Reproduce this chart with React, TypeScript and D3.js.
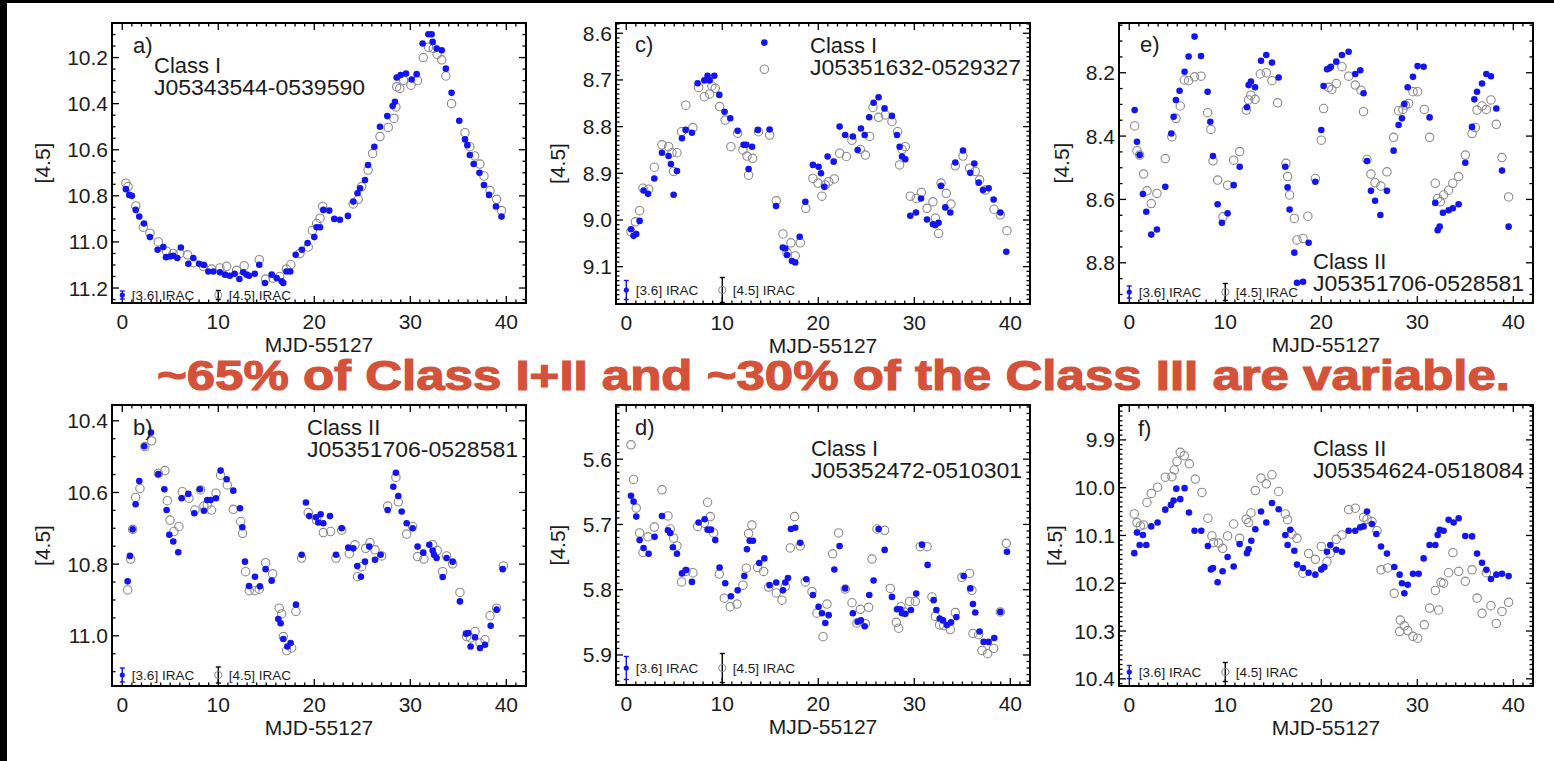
import React, { useEffect, useRef } from 'react';
import * as d3 from 'd3';

type Pt = [number, number];

// MJD-55127 vs [4.5] magnitude
const aBlue: Pt[] = [[0.38,10.771],[0.73,10.796],[1.0,10.80],[1.4,10.861],[1.77,10.89],[2.26,10.92],[2.88,10.979],[3.68,11.034],[4.27,11.022],[4.55,11.066],[4.97,11.063],[5.3,11.06],[5.73,11.07],[6.1,11.024],[6.88,11.095],[7.4,11.07],[8.0,11.095],[8.5,11.10],[8.96,11.128],[9.48,11.128],[10.17,11.132],[10.7,11.142],[11.2,11.147],[11.7,11.138],[12.2,11.161],[12.6,11.132],[12.95,11.142],[13.2,11.147],[13.8,11.138],[14.27,11.099],[14.86,11.178],[15.56,11.142],[16.08,11.157],[16.6,11.171],[16.77,11.178],[17.1,11.128],[17.5,11.128],[18.06,11.056],[18.7,11.034],[19.3,11.005],[20.0,10.979],[20.24,10.936],[20.6,10.936],[20.94,10.861],[21.56,10.864],[22.08,10.90],[22.67,10.904],[23.5,10.887],[24.06,10.825],[24.5,10.789],[24.76,10.767],[25.28,10.731],[25.6,10.666],[26.25,10.587],[26.84,10.50],[27.6,10.454],[28.16,10.41],[28.4,10.392],[28.58,10.287],[29.0,10.276],[29.55,10.269],[30.14,10.295],[30.66,10.272],[31.28,10.139],[31.88,10.099],[32.22,10.099],[32.33,10.132],[32.75,10.161],[33.27,10.168],[33.7,10.248],[34.3,10.353],[35.1,10.474],[35.7,10.555],[35.94,10.58],[36.2,10.623],[36.6,10.662],[37.2,10.70],[37.67,10.753],[38.2,10.796],[38.92,10.846],[39.5,10.89]];
const aGrey: Pt[] = [[0.38,10.745],[0.6,10.76],[1.42,10.844],[2.19,10.936],[2.88,10.962],[3.75,11.0],[4.6,11.04],[5.3,11.05],[6.0,11.05],[6.8,11.056],[7.4,11.09],[8.44,11.106],[9.3,11.118],[10.17,11.113],[10.87,11.106],[11.9,11.123],[12.7,11.103],[14.27,11.077],[14.93,11.161],[15.7,11.157],[16.4,11.15],[17.1,11.118],[17.55,11.099],[18.5,11.05],[19.37,11.022],[19.8,10.95],[20.24,10.92],[20.6,10.897],[20.87,10.846],[24.06,10.835],[24.58,10.815],[24.93,10.76],[25.6,10.688],[26.08,10.616],[26.84,10.543],[27.7,10.503],[28.3,10.464],[28.5,10.414],[28.58,10.327],[28.9,10.334],[29.3,10.298],[30.07,10.32],[30.75,10.30],[31.35,10.20],[31.9,10.155],[32.4,10.16],[32.8,10.186],[33.27,10.21],[33.7,10.28],[34.3,10.40],[35.7,10.526],[36.2,10.587],[36.7,10.627],[37.25,10.662],[37.67,10.714],[38.3,10.777],[38.99,10.815],[39.5,10.864]];

const cBlue: Pt[] = [[0.49,9.02],[0.76,9.034],[1.04,9.03],[1.39,9.002],[1.8,8.937],[2.26,8.944],[2.92,8.911],[3.72,8.856],[4.4,8.863],[4.65,8.88],[4.93,8.946],[5.28,8.895],[5.8,8.825],[6.18,8.807],[6.84,8.813],[7.43,8.707],[8.13,8.701],[8.47,8.691],[8.68,8.701],[9.17,8.691],[9.69,8.732],[10.24,8.768],[10.83,8.782],[11.6,8.809],[12.22,8.839],[12.5,8.839],[12.74,8.891],[13.1,8.843],[13.7,8.807],[14.38,8.62],[14.93,8.806],[15.6,8.97],[16.3,9.059],[16.56,9.061],[16.74,9.075],[17.26,9.088],[17.6,9.091],[18.06,9.036],[18.65,8.961],[19.44,8.882],[20.03,8.886],[20.28,8.90],[20.63,8.929],[20.97,8.864],[21.6,8.875],[22.22,8.80],[22.8,8.818],[23.6,8.821],[24.1,8.85],[24.44,8.804],[24.83,8.818],[25.3,8.78],[25.76,8.749],[26.28,8.737],[26.9,8.761],[27.67,8.777],[28.2,8.818],[28.47,8.843],[28.72,8.864],[29.06,8.87],[29.58,8.991],[30.17,8.984],[30.7,8.954],[31.32,8.999],[31.94,9.009],[32.2,9.011],[32.53,9.006],[32.78,8.927],[33.23,8.973],[33.75,8.984],[34.27,8.877],[35.07,8.851],[35.83,8.899],[36.25,8.879],[36.7,8.92],[37.15,8.936],[37.74,8.932],[38.26,8.956],[38.96,8.984],[39.58,9.068]];
const cGrey: Pt[] = [[0.49,9.025],[0.94,9.004],[1.39,8.98],[1.74,8.932],[2.33,8.934],[2.92,8.887],[3.72,8.839],[4.41,8.843],[4.76,8.856],[4.93,8.896],[5.28,8.856],[5.76,8.811],[6.2,8.754],[6.94,8.802],[7.53,8.716],[8.13,8.736],[8.68,8.73],[8.92,8.713],[9.27,8.718],[9.72,8.757],[10.3,8.786],[10.9,8.843],[11.6,8.814],[12.15,8.85],[12.57,8.863],[12.74,8.904],[13.16,8.868],[13.78,8.811],[14.38,8.677],[14.93,8.818],[15.62,8.959],[16.32,9.03],[16.74,9.07],[17.15,9.049],[17.6,9.077],[18.12,9.049],[18.7,8.975],[19.44,8.911],[19.97,8.921],[20.38,8.949],[20.73,8.925],[21.08,8.918],[21.67,8.912],[22.22,8.857],[22.92,8.864],[23.5,8.829],[24.38,8.849],[24.9,8.861],[25.35,8.821],[25.7,8.759],[26.28,8.78],[26.98,8.775],[27.67,8.789],[28.26,8.811],[28.47,8.882],[28.72,8.849],[29.06,8.843],[29.58,8.949],[30.2,8.954],[30.73,8.941],[31.32,8.975],[31.94,8.961],[32.2,8.996],[32.53,9.029],[32.78,8.921],[33.33,8.943],[33.82,8.966],[34.27,8.884],[35.07,8.863],[35.76,8.889],[36.35,8.896],[36.8,8.914],[37.4,8.936],[38.3,8.977],[38.96,8.989],[39.65,9.023]];

const eBlue: Pt[] = [[0.56,8.318],[0.8,8.418],[1.08,8.46],[1.42,8.583],[1.77,8.639],[2.29,8.711],[2.88,8.695],[3.75,8.56],[4.38,8.392],[4.62,8.339],[4.86,8.286],[5.24,8.257],[5.76,8.197],[6.18,8.149],[6.8,8.086],[7.47,8.147],[8.16,8.26],[8.44,8.355],[8.72,8.463],[9.2,8.615],[9.65,8.674],[10.24,8.644],[10.87,8.555],[11.5,8.497],[12.26,8.309],[12.43,8.239],[12.67,8.228],[13.1,8.246],[13.72,8.162],[14.27,8.144],[14.86,8.168],[15.56,8.215],[16.25,8.497],[16.49,8.562],[16.7,8.632],[17.19,8.768],[17.47,8.863],[18.1,8.86],[18.68,8.737],[19.38,8.544],[20.0,8.381],[20.24,8.242],[20.6,8.189],[20.83,8.186],[21.0,8.181],[21.56,8.165],[22.15,8.144],[22.85,8.134],[23.54,8.204],[24.06,8.192],[24.4,8.265],[24.76,8.479],[25.17,8.573],[25.6,8.604],[26.15,8.649],[26.84,8.573],[27.53,8.446],[28.05,8.365],[28.4,8.344],[28.65,8.299],[29.0,8.246],[29.55,8.213],[30.03,8.179],[30.66,8.181],[31.28,8.341],[31.87,8.611],[32.12,8.697],[32.33,8.686],[32.67,8.642],[33.26,8.634],[33.7,8.628],[34.3,8.615],[35.0,8.484],[35.7,8.371],[35.94,8.284],[36.22,8.26],[36.74,8.234],[37.19,8.204],[37.67,8.211],[38.23,8.313],[38.82,8.509],[39.51,8.686]];
const eGrey: Pt[] = [[0.56,8.368],[0.8,8.446],[1.08,8.46],[1.49,8.52],[1.84,8.573],[2.29,8.613],[2.88,8.581],[3.75,8.471],[4.44,8.402],[4.86,8.344],[5.31,8.305],[5.73,8.223],[6.18,8.225],[6.8,8.213],[7.47,8.211],[8.16,8.326],[8.5,8.379],[8.72,8.478],[9.2,8.539],[9.76,8.655],[10.24,8.555],[10.87,8.476],[11.5,8.449],[12.19,8.318],[12.43,8.286],[12.67,8.271],[13.1,8.284],[13.65,8.204],[14.27,8.2],[14.86,8.225],[15.45,8.295],[16.32,8.486],[16.49,8.528],[16.7,8.586],[17.19,8.66],[17.47,8.728],[18.1,8.723],[18.6,8.653],[19.38,8.534],[20.0,8.413],[20.24,8.313],[20.76,8.246],[21.1,8.253],[21.56,8.234],[22.15,8.181],[22.85,8.211],[23.54,8.239],[24.13,8.255],[24.4,8.323],[24.76,8.474],[25.17,8.52],[25.6,8.547],[26.2,8.558],[26.84,8.513],[27.53,8.404],[28.05,8.32],[28.5,8.316],[28.75,8.302],[29.1,8.297],[29.55,8.26],[30.03,8.26],[30.73,8.316],[31.28,8.404],[31.87,8.549],[32.12,8.597],[32.4,8.607],[32.74,8.586],[33.26,8.571],[33.7,8.549],[34.3,8.528],[35.0,8.46],[35.7,8.392],[36.04,8.373],[36.22,8.318],[36.74,8.305],[37.19,8.316],[37.67,8.286],[38.23,8.363],[38.82,8.468],[39.51,8.592]];

const bBlue: Pt[] = [[0.56,10.848],[0.8,10.777],[1.08,10.703],[1.39,10.633],[1.77,10.568],[2.29,10.471],[2.99,10.433],[3.75,10.549],[4.38,10.591],[4.62,10.649],[4.9,10.718],[5.31,10.737],[5.83,10.767],[6.18,10.616],[6.88,10.604],[7.5,10.658],[8.09,10.591],[8.5,10.651],[8.85,10.621],[9.2,10.621],[9.76,10.616],[10.24,10.539],[10.87,10.563],[11.56,10.595],[12.26,10.644],[12.5,10.697],[12.78,10.793],[13.2,10.861],[13.82,10.835],[14.34,10.862],[14.93,10.814],[15.56,10.846],[16.25,10.953],[16.49,10.965],[16.77,11.009],[17.19,11.03],[17.53,11.02],[18.09,10.913],[18.68,10.774],[19.13,10.628],[19.48,10.666],[20.17,10.669],[20.42,10.684],[20.66,10.661],[20.94,10.686],[21.63,10.666],[22.26,10.774],[22.85,10.70],[23.54,10.754],[24.06,10.756],[24.48,10.805],[24.86,10.835],[25.28,10.793],[25.73,10.751],[26.32,10.788],[26.91,10.774],[27.64,10.649],[28.23,10.584],[28.5,10.545],[28.75,10.61],[29.1,10.653],[29.62,10.686],[30.24,10.70],[30.76,10.751],[31.35,10.768],[31.98,10.746],[32.33,10.762],[32.47,10.774],[32.74,10.783],[33.37,10.836],[33.78,10.783],[34.41,10.793],[35.17,10.904],[35.8,10.994],[36.04,10.992],[36.28,11.03],[36.74,11.004],[37.26,11.034],[37.78,11.025],[38.37,10.972],[38.99,10.927],[39.62,10.814]];
const bGrey: Pt[] = [[0.56,10.872],[0.87,10.786],[1.08,10.703],[1.39,10.614],[1.84,10.589],[2.36,10.472],[3.06,10.456],[3.75,10.547],[4.44,10.539],[4.69,10.623],[4.97,10.677],[5.38,10.709],[5.9,10.695],[6.25,10.598],[6.94,10.616],[7.57,10.649],[8.16,10.593],[8.5,10.638],[8.85,10.635],[9.3,10.649],[9.76,10.602],[10.24,10.552],[10.94,10.579],[11.56,10.647],[12.33,10.681],[12.53,10.714],[12.85,10.821],[13.23,10.874],[13.82,10.874],[14.27,10.87],[14.93,10.796],[15.66,10.827],[16.35,10.923],[16.6,10.939],[16.77,11.002],[17.12,11.041],[17.64,11.034],[18.09,10.932],[18.68,10.783],[19.37,10.656],[20.24,10.677],[20.94,10.712],[21.7,10.709],[22.26,10.783],[22.85,10.705],[23.65,10.771],[24.24,10.746],[24.51,10.835],[24.93,10.807],[25.35,10.756],[25.8,10.74],[26.32,10.76],[27.01,10.777],[27.64,10.638],[28.5,10.558],[28.75,10.626],[29.62,10.716],[30.24,10.695],[30.76,10.779],[31.42,10.786],[32.33,10.746],[32.81,10.762],[33.37,10.821],[33.78,10.777],[34.41,10.799],[35.17,10.879],[35.87,11.002],[36.28,11.006],[36.74,10.988],[37.26,11.02],[37.78,11.011],[38.3,10.944],[38.99,10.923],[39.69,10.805]];

const dBlue: Pt[] = [[0.49,5.656],[0.76,5.665],[1.04,5.688],[1.39,5.724],[1.8,5.736],[2.33,5.745],[2.95,5.719],[3.72,5.687],[4.34,5.709],[4.58,5.713],[4.86,5.735],[5.28,5.745],[5.8,5.775],[6.22,5.77],[6.84,5.788],[7.53,5.697],[8.16,5.692],[8.47,5.708],[8.82,5.708],[9.27,5.724],[9.72,5.766],[10.31,5.79],[10.9,5.81],[11.6,5.801],[12.29,5.779],[12.57,5.738],[12.85,5.725],[13.19,5.725],[13.85,5.759],[14.38,5.752],[14.93,5.793],[15.62,5.789],[16.32,5.801],[16.56,5.789],[16.84,5.782],[17.15,5.707],[17.6,5.705],[18.12,5.728],[18.75,5.784],[19.44,5.808],[20.03,5.826],[20.38,5.836],[20.73,5.851],[21.08,5.839],[21.67,5.769],[22.22,5.733],[22.8,5.798],[23.6,5.836],[24.1,5.849],[24.44,5.847],[24.83,5.856],[25.31,5.808],[25.76,5.786],[26.28,5.707],[26.91,5.739],[27.67,5.811],[28.2,5.83],[28.54,5.83],[28.72,5.836],[29.06,5.837],[29.65,5.831],[30.2,5.806],[30.8,5.731],[31.39,5.762],[32.01,5.816],[32.3,5.831],[32.64,5.844],[32.99,5.847],[33.4,5.854],[33.82,5.85],[34.38,5.842],[35.14,5.779],[35.83,5.798],[36.11,5.822],[36.35,5.835],[36.8,5.864],[37.22,5.88],[37.74,5.88],[38.33,5.874],[38.96,5.834],[39.65,5.742]];
const dGrey: Pt[] = [[0.49,5.578],[0.76,5.631],[1.04,5.675],[1.39,5.713],[1.74,5.743],[2.26,5.719],[2.92,5.704],[3.72,5.647],[4.34,5.687],[4.58,5.707],[4.93,5.721],[5.28,5.733],[5.76,5.788],[6.22,5.772],[6.94,5.774],[7.43,5.703],[8.13,5.698],[8.47,5.666],[8.75,5.688],[9.1,5.713],[9.69,5.776],[10.21,5.813],[10.83,5.826],[11.53,5.822],[12.15,5.793],[12.5,5.767],[12.74,5.714],[13.09,5.701],[13.68,5.766],[14.31,5.772],[14.83,5.796],[15.62,5.805],[16.22,5.816],[16.56,5.795],[17.08,5.736],[17.53,5.688],[18.12,5.733],[18.65,5.788],[19.34,5.803],[19.86,5.836],[20.49,5.872],[20.9,5.822],[21.49,5.745],[22.12,5.713],[22.81,5.799],[23.51,5.82],[24.03,5.851],[24.38,5.83],[24.9,5.852],[25.24,5.827],[25.59,5.753],[26.11,5.707],[26.91,5.709],[27.5,5.798],[28.13,5.85],[28.37,5.859],[28.61,5.826],[28.96,5.834],[29.51,5.818],[30.1,5.818],[30.62,5.734],[31.32,5.734],[31.84,5.811],[32.19,5.841],[32.64,5.854],[33.06,5.855],[33.75,5.861],[34.27,5.835],[34.96,5.781],[35.76,5.775],[36.0,5.801],[36.11,5.867],[36.7,5.869],[37.05,5.893],[37.64,5.898],[38.26,5.89],[38.96,5.834],[39.58,5.729]];

const fBlue: Pt[] = [[0.52,10.137],[0.8,10.094],[1.08,10.12],[1.42,10.099],[1.77,10.12],[2.29,10.081],[2.95,10.073],[3.75,10.046],[4.34,10.036],[4.62,10.027],[4.9,10.002],[5.31,10.024],[5.76,10.001],[6.22,10.052],[6.8,10.09],[7.5,10.09],[8.19,10.122],[8.5,10.171],[8.72,10.168],[9.2,10.198],[9.72,10.175],[10.24,10.145],[10.87,10.165],[11.49,10.118],[12.26,10.137],[12.43,10.129],[12.71,10.111],[13.13,10.087],[13.72,10.05],[14.27,10.073],[14.86,10.032],[15.56,10.045],[16.25,10.099],[16.49,10.12],[16.77,10.088],[17.19,10.132],[17.47,10.161],[18.09,10.168],[18.68,10.178],[19.38,10.182],[20.0,10.171],[20.31,10.166],[20.59,10.134],[20.94,10.12],[21.56,10.13],[22.15,10.134],[22.85,10.09],[23.54,10.09],[24.06,10.083],[24.41,10.081],[24.76,10.05],[25.28,10.076],[25.73,10.097],[26.22,10.123],[26.84,10.138],[27.6,10.166],[28.16,10.182],[28.4,10.2],[28.65,10.221],[29.0,10.203],[29.55,10.18],[30.14,10.18],[30.66,10.148],[31.28,10.12],[31.88,10.12],[32.12,10.099],[32.33,10.088],[32.74,10.09],[33.26,10.067],[33.78,10.073],[34.31,10.064],[35.0,10.101],[35.7,10.102],[36.22,10.138],[36.74,10.157],[37.19,10.172],[37.67,10.191],[38.23,10.182],[38.82,10.18],[39.51,10.185]];
const fGrey: Pt[] = [[0.52,10.055],[0.8,10.073],[1.15,10.08],[1.49,10.078],[1.84,10.031],[2.29,10.012],[2.95,9.999],[3.75,9.978],[4.44,9.977],[4.69,9.963],[4.97,9.945],[5.31,9.926],[5.73,9.933],[6.25,9.95],[6.88,9.982],[7.57,10.01],[8.19,10.064],[8.61,10.101],[8.78,10.115],[9.3,10.116],[9.72,10.127],[10.24,10.101],[10.87,10.076],[11.49,10.106],[12.19,10.066],[12.43,10.073],[12.67,10.053],[13.13,10.006],[13.72,9.98],[14.27,9.992],[14.86,9.973],[15.56,10.008],[16.25,10.055],[16.49,10.067],[16.94,10.097],[17.47,10.106],[18.09,10.179],[18.68,10.138],[19.38,10.15],[20.0,10.123],[20.59,10.155],[20.94,10.137],[21.56,10.108],[22.15,10.099],[22.85,10.046],[23.54,10.043],[24.41,10.062],[24.76,10.066],[25.28,10.071],[25.8,10.09],[26.22,10.172],[26.91,10.168],[27.6,10.221],[28.23,10.277],[28.16,10.301],[28.65,10.289],[29.0,10.299],[29.55,10.311],[30.03,10.315],[30.73,10.287],[31.28,10.252],[31.88,10.215],[32.22,10.256],[32.47,10.198],[32.74,10.2],[33.26,10.178],[33.71,10.136],[34.31,10.175],[35.0,10.196],[35.7,10.172],[36.22,10.231],[36.74,10.263],[37.19,10.178],[37.67,10.247],[38.23,10.284],[38.82,10.259],[39.51,10.24]];

const xTicks = [0, 10, 20, 30, 40];
const headline = '~65% of Class I+II and ~30% of the Class III are variable.';

interface Panel {
  tag: string;
  cls: string;
  src: string;
  blue: Pt[];
  grey: Pt[];
  yDomain: [number, number];
  yTicks: number[];
  yMinor: number;
  // layout
  left: number;
  top: number;
  height: number;
  yLabelOff: number;
  tagY: number;
  tagX: number;
  clsX: number;
  clsY: number;
  legOff: number;
  errBlue: number;
  errBlack: number;
}

const panels: Panel[] = [
  { tag: 'a)', cls: 'Class I', src: 'J05343544-0539590', blue: aBlue, grey: aGrey,
    yDomain: [10.05, 11.265], yTicks: [10.2, 10.4, 10.6, 10.8, 11.0, 11.2], yMinor: 0.05,
    left: 112, top: 23, height: 280, yLabelOff: 69, tagX: 21, tagY: 30, clsX: 42, clsY: 50, legOff: 8, errBlue: 4, errBlack: 4.5 },
  { tag: 'c)', cls: 'Class I', src: 'J05351632-0529327', blue: cBlue, grey: cGrey,
    yDomain: [8.578, 9.18], yTicks: [8.6, 8.7, 8.8, 8.9, 9.0, 9.1], yMinor: 0.01,
    left: 616, top: 23, height: 281, yLabelOff: 58, tagX: 19, tagY: 29, clsX: 194, clsY: 30, legOff: 14, errBlue: 9.5, errBlack: 12.5 },
  { tag: 'e)', cls: 'Class II', src: 'J05351706-0528581', blue: eBlue, grey: eGrey,
    yDomain: [8.043, 8.927], yTicks: [8.2, 8.4, 8.6, 8.8], yMinor: 0.05,
    left: 1119, top: 23, height: 280, yLabelOff: 57, tagX: 21, tagY: 29, clsX: 194, clsY: 246, legOff: 11, errBlue: 6, errBlack: 8.5 },
  { tag: 'b)', cls: 'Class II', src: 'J05351706-0528581', blue: bBlue, grey: bGrey,
    yDomain: [10.356, 11.14], yTicks: [10.4, 10.6, 10.8, 11.0], yMinor: 0.05,
    left: 112, top: 405, height: 281, yLabelOff: 69, tagX: 21, tagY: 30, clsX: 195, clsY: 30, legOff: 11, errBlue: 7, errBlack: 8 },
  { tag: 'd)', cls: 'Class I', src: 'J05352472-0510301', blue: dBlue, grey: dGrey,
    yDomain: [5.517, 5.946], yTicks: [5.6, 5.7, 5.8, 5.9], yMinor: 0.01,
    left: 616, top: 405, height: 280, yLabelOff: 58, tagX: 19, tagY: 30, clsX: 195, clsY: 51, legOff: 17, errBlue: 11.5, errBlack: 14.5 },
  { tag: 'f)', cls: 'Class II', src: 'J05354624-0518084', blue: fBlue, grey: fGrey,
    yDomain: [9.827, 10.415], yTicks: [9.9, 10.0, 10.1, 10.2, 10.3, 10.4], yMinor: 0.01,
    left: 1119, top: 405, height: 281, yLabelOff: 64, tagX: 19, tagY: 31, clsX: 194, clsY: 51, legOff: 14, errBlue: 6.5, errBlack: 9.5 },
];

const FONT = '"Liberation Sans", Arial, Helvetica, sans-serif';
const INK = '#1c1c1c';
const BLUE = '#1414f0';
const GREY = '#8a8a8a';
const PW = 414;

export default function App() {
  const svgRef = useRef<SVGSVGElement>(null);

  useEffect(() => {
    if (!svgRef.current) return;
    const svg = d3.select(svgRef.current);
    svg.selectAll('*').remove();

    svg.append('rect').attr('width', 1554).attr('height', 761).attr('fill', '#fff');
    // dark edges of the slide
    svg.append('rect').attr('width', 1554).attr('height', 3).attr('fill', '#000');
    svg.append('rect').attr('width', 7).attr('height', 761).attr('fill', '#000');

    panels.forEach(p => {
      const H = p.height;
      const g = svg.append('g')
        .attr('transform', `translate(${p.left},${p.top})`)
        .style('font-family', FONT);

      const x = d3.scaleLinear().domain([-1.07, 42.05]).range([0, PW]);
      const y = d3.scaleLinear().domain(p.yDomain).range([0, H]);

      // ticks, inside on all four sides
      const ticks = g.append('g').attr('stroke', '#000').attr('stroke-width', 1.3);
      const xMinor = d3.range(0, 43).filter(v => v % 10 !== 0);
      xMinor.forEach(v => {
        ticks.append('line').attr('x1', x(v)).attr('x2', x(v)).attr('y1', H).attr('y2', H - 3.5);
        ticks.append('line').attr('x1', x(v)).attr('x2', x(v)).attr('y1', 0).attr('y2', 3.5);
      });
      xTicks.forEach(v => {
        ticks.append('line').attr('x1', x(v)).attr('x2', x(v)).attr('y1', H).attr('y2', H - 7);
        ticks.append('line').attr('x1', x(v)).attr('x2', x(v)).attr('y1', 0).attr('y2', 7);
      });
      const i0 = Math.ceil(p.yDomain[0] / p.yMinor - 1e-6);
      const i1 = Math.floor(p.yDomain[1] / p.yMinor + 1e-6);
      d3.range(i0, i1 + 1).map(i => i * p.yMinor).forEach(v => {
        const major = p.yTicks.some(t => Math.abs(t - v) < 1e-6);
        const len = major ? 7 : 3.5;
        ticks.append('line').attr('x1', 0).attr('x2', len).attr('y1', y(v)).attr('y2', y(v));
        ticks.append('line').attr('x1', PW).attr('x2', PW - len).attr('y1', y(v)).attr('y2', y(v));
      });

      // tick labels
      g.selectAll('.xl').data(xTicks).enter().append('text')
        .attr('x', d => x(d)).attr('y', H + 26)
        .attr('text-anchor', 'middle').attr('font-size', 21).attr('fill', INK)
        .text(d => d);
      g.selectAll('.yl').data(p.yTicks).enter().append('text')
        .attr('x', -4).attr('y', d => y(d) + 7.5)
        .attr('text-anchor', 'end').attr('font-size', 21).attr('fill', INK)
        .text(d => d3.format('.1f')(d));

      // axis titles
      g.append('text')
        .attr('x', PW / 2).attr('y', H + 49)
        .attr('text-anchor', 'middle').attr('font-size', 21).attr('fill', INK)
        .text('MJD-55127');
      g.append('text')
        .attr('transform', `translate(${-p.yLabelOff + 7},${H / 2}) rotate(-90)`)
        .attr('text-anchor', 'middle').attr('font-size', 21).attr('fill', INK)
        .text('[4.5]');

      // data
      g.append('g').selectAll('circle').data(p.grey).enter().append('circle')
        .attr('cx', d => x(d[0])).attr('cy', d => y(d[1])).attr('r', 4.2)
        .attr('fill', 'none').attr('stroke', GREY).attr('stroke-width', 1.1);
      g.append('g').selectAll('circle').data(p.blue).enter().append('circle')
        .attr('cx', d => x(d[0])).attr('cy', d => y(d[1])).attr('r', 3.3)
        .attr('fill', BLUE);

      // legend with typical error bars
      const yl = H - p.legOff;
      const bar = (cx: number, half: number, color: string) => {
        g.append('line').attr('x1', cx).attr('x2', cx).attr('y1', yl - half).attr('y2', yl + half)
          .attr('stroke', color).attr('stroke-width', 1.4);
        [yl - half, yl + half].forEach(yy => g.append('line')
          .attr('x1', cx - 2.5).attr('x2', cx + 2.5).attr('y1', yy).attr('y2', yy)
          .attr('stroke', color).attr('stroke-width', 1.4));
      };
      bar(x(0), p.errBlue, BLUE);
      g.append('circle').attr('cx', x(0)).attr('cy', yl).attr('r', 2.6).attr('fill', BLUE);
      g.append('text').attr('x', x(1.0)).attr('y', yl + 4.5)
        .attr('font-size', 13.5).attr('fill', INK).text('[3.6] IRAC');
      bar(x(10), p.errBlack, '#000');
      g.append('circle').attr('cx', x(10)).attr('cy', yl).attr('r', 3.6)
        .attr('fill', 'none').attr('stroke', GREY).attr('stroke-width', 1);
      g.append('text').attr('x', x(11.1)).attr('y', yl + 4.5)
        .attr('font-size', 13.5).attr('fill', INK).text('[4.5] IRAC');

      // annotations
      g.append('text').attr('x', p.tagX).attr('y', p.tagY)
        .attr('font-size', 22).attr('fill', INK).text(p.tag);
      g.append('text').attr('x', p.clsX).attr('y', p.clsY)
        .attr('font-size', 22).attr('fill', INK).text(p.cls);
      g.append('text').attr('x', p.clsX).attr('y', p.clsY + 21.5)
        .attr('font-size', 22).attr('fill', INK)
        .attr('textLength', 211).attr('lengthAdjust', 'spacingAndGlyphs')
        .text(p.src);

      // frame
      g.append('rect').attr('width', PW).attr('height', H)
        .attr('fill', 'none').attr('stroke', '#000').attr('stroke-width', 2);
    });

    svg.append('text')
      .attr('x', 157).attr('y', 390)
      .attr('font-family', FONT).attr('font-weight', 'bold').attr('font-size', 42)
      .attr('fill', '#d4523a').attr('stroke', '#d4523a').attr('stroke-width', 1.2)
      .attr('textLength', 1353).attr('lengthAdjust', 'spacingAndGlyphs')
      .text(headline);
  }, []);

  return (
    <svg
      ref={svgRef}
      width={1554}
      height={761}
      style={{ position: 'absolute', left: 0, top: 0, display: 'block' }}
    />
  );
}
